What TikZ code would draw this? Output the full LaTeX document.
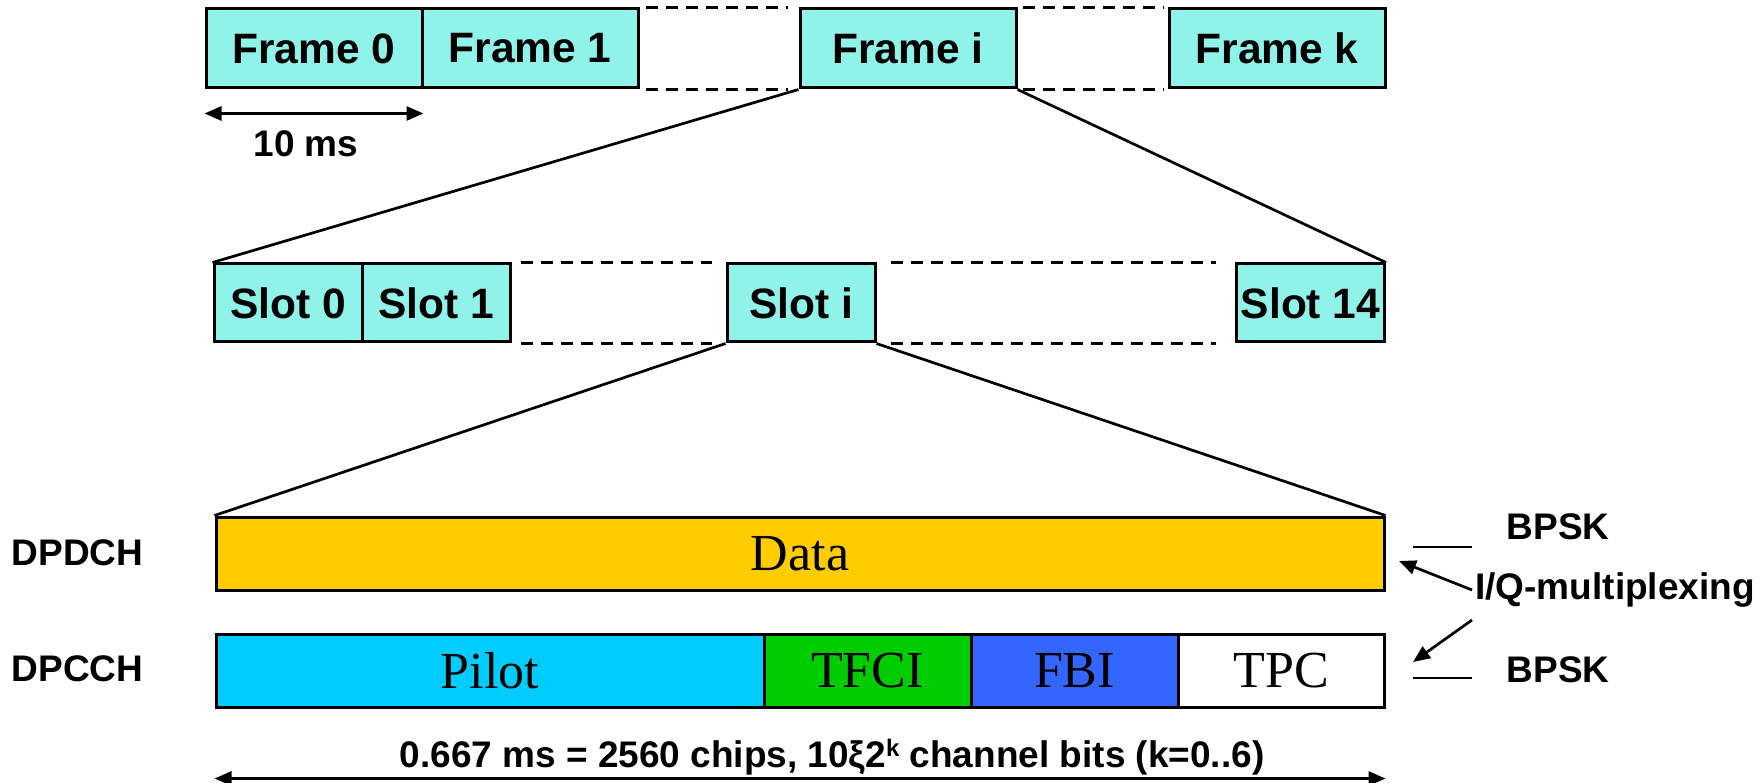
\documentclass[tikz,border=0pt]{standalone}
\usepackage{fontspec}
\setmainfont{Liberation Sans}
\newfontfamily\serifface{Liberation Serif}
\usetikzlibrary{arrows.meta,calc}
\definecolor{aqua}{RGB}{143,243,234}
\definecolor{datay}{RGB}{255,204,0}
\definecolor{pilotc}{RGB}{0,204,255}
\definecolor{tfcic}{RGB}{0,204,0}
\definecolor{fbic}{RGB}{51,102,255}
\begin{document}
\begin{tikzpicture}[x=1pt,y=-1pt,
  lw/.style={line width=3pt},
  cell/.style={draw,lw,fill=aqua,inner sep=0pt,font=\bfseries\fontsize{42.5}{50}\selectfont},
  framebox/.style={cell,minimum width=216pt,minimum height=79pt},
  slotbox/.style={cell,minimum width=148pt,minimum height=78pt},
  chan/.style={draw,lw,inner sep=0pt,minimum height=73pt,font=\serifface\fontsize{52}{60}\selectfont},
  lab/.style={font=\bfseries\fontsize{37}{44}\selectfont,inner sep=0pt},
  link/.style={line width=2.7pt},
  gap/.style={line width=2.8pt,dash pattern=on 12pt off 8pt},
  dim/.style={line width=2.7pt,{Triangle[length=17pt,width=14pt]}-{Triangle[length=17pt,width=14pt]}},
  ptr/.style={line width=2.7pt,-{Triangle[length=17pt,width=14pt]}}
]
\useasboundingbox (0,0) rectangle (1764,783);

% frames
\node[framebox] (f0) at (314,48.5) {\raisebox{-2pt}{Frame 0}};
\node[framebox] (f1) at (530,48.5) {\raisebox{-2pt}{Frame 1}};
\node[framebox] (fi) at (908,48.5) {\raisebox{-2pt}{Frame i}};
\node[framebox] (fk) at (1277,48.5) {\raisebox{-2pt}{Frame k}};
\draw[gap] ($(f1.north east)+(6,0)$) -- ($(fi.north west)+(-11,0)$);
\draw[gap] ($(f1.south east)+(6,0)$) -- ($(fi.south west)+(-11,0)$);
\draw[gap] ($(fi.north east)+(5,0)$) -- ($(fk.north west)+(-4,0)$);
\draw[gap] ($(fi.south east)+(5,0)$) -- ($(fk.south west)+(-4,0)$);

\draw[dim] ($(f0.south west)+(0,24)$) -- ($(f0.south east)+(0,24)$);
\node[lab] (tenms) at (306,144) {10 ms};

% slots
\node[slotbox] (s0) at (288,303) {\raisebox{-2pt}{Slot 0}};
\node[slotbox] (s1) at (436,303) {\raisebox{-2pt}{Slot 1}};
\node[slotbox] (si) at (801,303) {\raisebox{-2pt}{Slot i}};
\node[slotbox] (s14) at (1310.5,303) {\raisebox{-2pt}{Slot 14}};
\draw[gap] ($(s1.north east)+(9,0)$) -- ($(si.north west)+(-14,0)$);
\draw[gap] ($(s1.south east)+(9,0)$) -- ($(si.south west)+(-14,0)$);
\draw[gap] ($(si.north east)+(14,0)$) -- ($(s14.north west)+(-19,0)$);
\draw[gap] ($(si.south east)+(14,0)$) -- ($(s14.south west)+(-19,0)$);

\draw[link] (fi.south west) -- (s0.north west);
\draw[link] (fi.south east) -- (s14.north east);

% channels
\node[chan,fill=datay,minimum width=1168pt] (data) at (800,553.5) {Data};
\node[chan,fill=pilotc,minimum width=548pt] (pilot) at (490,670.5) {Pilot};
\node[chan,fill=tfcic,minimum width=207pt] (tfci) at (867.5,670.5) {TFCI};
\node[chan,fill=fbic,minimum width=207pt] (fbi) at (1074.5,670.5) {FBI};
\node[chan,fill=white,minimum width=206pt] (tpc) at (1281,670.5) {TPC};

\draw[link] (si.south west) -- (data.north west);
\draw[link] (si.south east) -- (data.north east);

\node[lab] (dpdch) at (77.5,553) {DPDCH};
\node[lab] (dpcch) at (77.5,669) {DPCCH};

% right side
\node[lab] (bpsk1) at (1558,527) {BPSK};
\node[lab] (iq) at (1615,590) {I/Q-multiplexing};
\node[lab] (bpsk2) at (1558,670) {BPSK};
\coordinate (t1a) at (1413,547);
\coordinate (t1b) at (1472,547);
\coordinate (t2a) at (1413,678);
\coordinate (t2b) at (1472,678);
\draw[link] (t1a) -- (t1b);
\draw[link] (t2a) -- (t2b);
\coordinate (a1s) at (1472,590);
\coordinate (a1e) at (1399,561);
\coordinate (a2s) at (1472,620);
\coordinate (a2e) at (1413,662);
\draw[ptr] (a1s) -- (a1e);
\draw[ptr] (a2s) -- (a2e);

% bottom span
\node[lab] (span) at (832,757) {0.667 ms = 2560 chips, 10ξ2\raisebox{0.55ex}{\fontsize{24}{24}\selectfont k} channel bits (k=0..6)};
\draw[dim] ($(pilot.south west)+(0,70)$) -- ($(tpc.south east)+(0,70)$);
\end{tikzpicture}
\end{document}
